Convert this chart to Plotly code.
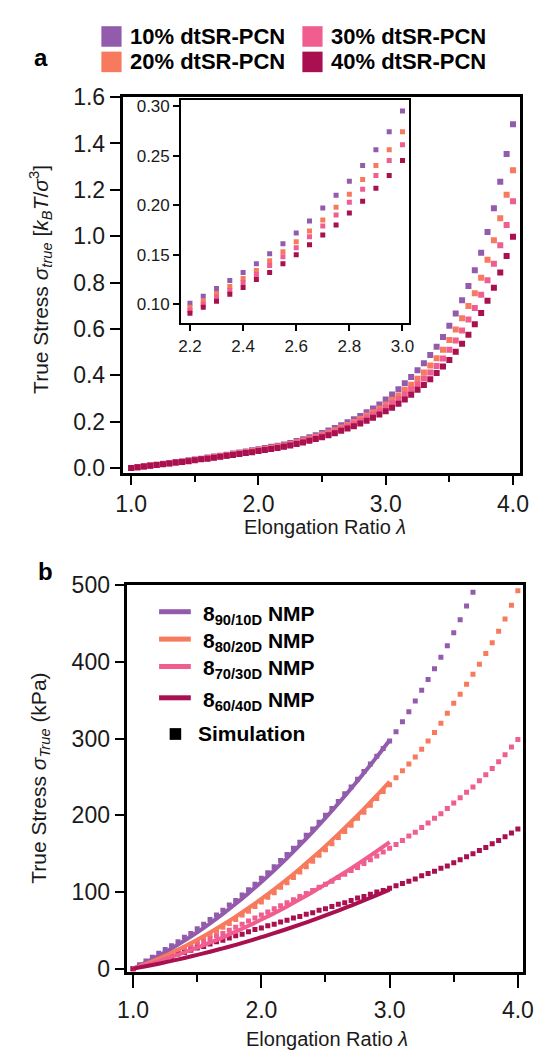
import plotly.graph_objects as go

W, H = 549, 1059

# ---------------- data: panel a (simulation, reduced units) ----------------
lam_a = [1.00, 1.05, 1.10, 1.15, 1.20, 1.25, 1.30, 1.35, 1.40, 1.45, 1.50,
         1.55, 1.60, 1.65, 1.70, 1.75, 1.80, 1.85, 1.90, 1.95, 2.00,
         2.05, 2.10, 2.15, 2.20, 2.25, 2.30, 2.35, 2.40, 2.45, 2.50,
         2.55, 2.60, 2.65, 2.70, 2.75, 2.80, 2.85, 2.90, 2.95, 3.00,
         3.05, 3.10, 3.15, 3.20, 3.25, 3.30, 3.35, 3.40, 3.45, 3.50,
         3.55, 3.60, 3.65, 3.70, 3.75, 3.80, 3.85, 3.90, 3.95, 4.00]

a10 = [0.000, 0.004, 0.007, 0.011, 0.014, 0.018, 0.021, 0.025, 0.028, 0.033, 0.036,
       0.040, 0.045, 0.049, 0.053, 0.057, 0.062, 0.067, 0.071, 0.076, 0.081,
       0.086, 0.091, 0.096, 0.101, 0.108, 0.116, 0.124, 0.132, 0.141, 0.151,
       0.161, 0.172, 0.184, 0.197, 0.210, 0.224, 0.240, 0.256, 0.274, 0.295,
       0.317, 0.339, 0.365, 0.392, 0.421, 0.452, 0.487, 0.523, 0.565, 0.614,
       0.666, 0.723, 0.785, 0.853, 0.929, 1.018, 1.121, 1.235, 1.355, 1.483]
a20 = [0.000, 0.003, 0.007, 0.010, 0.014, 0.017, 0.020, 0.024, 0.028, 0.031, 0.035,
       0.039, 0.043, 0.047, 0.051, 0.055, 0.059, 0.064, 0.068, 0.073, 0.077,
       0.082, 0.087, 0.092, 0.097, 0.103, 0.111, 0.118, 0.126, 0.134, 0.144,
       0.153, 0.163, 0.174, 0.185, 0.198, 0.211, 0.226, 0.240, 0.256, 0.274,
       0.294, 0.313, 0.336, 0.359, 0.385, 0.412, 0.442, 0.473, 0.510, 0.552,
       0.597, 0.646, 0.699, 0.754, 0.821, 0.898, 0.982, 1.077, 1.179, 1.284]
a30 = [0.000, 0.003, 0.007, 0.010, 0.013, 0.017, 0.020, 0.023, 0.027, 0.030, 0.034,
       0.038, 0.042, 0.045, 0.049, 0.053, 0.058, 0.062, 0.066, 0.070, 0.075,
       0.080, 0.084, 0.089, 0.094, 0.100, 0.107, 0.114, 0.122, 0.130, 0.139,
       0.148, 0.157, 0.168, 0.179, 0.190, 0.203, 0.216, 0.230, 0.245, 0.261,
       0.279, 0.296, 0.317, 0.338, 0.361, 0.386, 0.412, 0.440, 0.472, 0.510,
       0.550, 0.593, 0.640, 0.690, 0.747, 0.810, 0.881, 0.961, 1.048, 1.151]
a40 = [0.000, 0.003, 0.006, 0.009, 0.013, 0.016, 0.019, 0.023, 0.026, 0.029, 0.033,
       0.037, 0.040, 0.044, 0.048, 0.052, 0.056, 0.060, 0.064, 0.068, 0.073,
       0.077, 0.082, 0.086, 0.091, 0.097, 0.103, 0.110, 0.117, 0.125, 0.132,
       0.141, 0.150, 0.160, 0.170, 0.180, 0.192, 0.204, 0.217, 0.230, 0.245,
       0.260, 0.277, 0.295, 0.316, 0.337, 0.358, 0.383, 0.410, 0.438, 0.466,
       0.501, 0.536, 0.575, 0.620, 0.669, 0.721, 0.777, 0.843, 0.915, 0.997]

names_a = ["10% dtSR-PCN", "20% dtSR-PCN", "30% dtSR-PCN", "40% dtSR-PCN"]

# ---------------- data: panel b (kPa) ----------------
lam_b = lam_a
b10_sim = [0, 5, 10, 15, 20, 25, 30, 35, 41, 46, 52,
           58, 64, 70, 76, 83, 89, 96, 103, 110, 118,
           125, 133, 141, 149, 157, 165, 174, 182, 191, 200,
           209, 218, 228, 237, 247, 257, 267, 277, 287, 297,
           309, 322, 335, 349, 363, 377, 391, 406, 421, 438,
           455, 473, 491]
b20_sim = [0, 3, 6, 9, 12, 16, 19, 23, 27, 31, 35,
           40, 44, 49, 54, 59, 64, 70, 75, 81, 87,
           93, 99, 106, 112, 119, 126, 133, 140, 148, 155,
           163, 171, 179, 187, 196, 204, 213, 222, 231, 240,
           249, 258, 267, 276, 286, 297, 308, 320, 333, 346,
           358, 371, 384, 397, 411, 425, 440, 456, 474, 493]
b30_sim = [0, 3, 6, 9, 12, 15, 18, 21, 25, 28, 32,
           35, 39, 43, 46, 50, 54, 58, 62, 66, 70,
           74, 78, 82, 86, 90, 94, 98, 102, 106, 110,
           114, 119, 123, 128, 132, 137, 142, 147, 152, 157,
           162, 167, 173, 178, 184, 190, 196, 202, 209, 216,
           223, 230, 237, 245, 253, 261, 270, 279, 289, 299]
b40_sim = [0, 3, 5, 8, 11, 13, 16, 19, 21, 24, 27,
           29, 32, 35, 37, 40, 43, 45, 48, 51, 53,
           56, 58, 61, 63, 66, 68, 71, 73, 76, 78,
           81, 84, 86, 89, 92, 94, 97, 100, 102, 105,
           108, 111, 114, 117, 121, 124, 127, 131, 134, 138,
           142, 146, 150, 154, 158, 163, 167, 172, 177, 182]

lam_exp = [1.0, 1.1, 1.2, 1.3, 1.4, 1.5, 1.6, 1.7, 1.8, 1.9, 2.0,
           2.1, 2.2, 2.3, 2.4, 2.5, 2.6, 2.7, 2.8, 2.9, 3.0]
b10_exp = [0, 8.1, 16.8, 26.3, 36.6, 47.5, 59.2, 71.5, 84.6, 98.5, 113,
           128.3, 144.2, 161, 178.4, 196.5, 215.4, 235, 255.2, 276.2, 298]
b20_exp = [0, 6.3, 13.2, 20.8, 29.0, 37.8, 47.2, 57.2, 67.8, 79.1, 91,
           103.5, 116.6, 130.4, 144.8, 159.8, 175.4, 191.6, 208.4, 225.9, 244]
b30_exp = [0, 4.7, 9.8, 15.3, 21.2, 27.4, 34.0, 40.9, 48.2, 55.9, 64,
           72.4, 81.2, 90.4, 100.0, 109.9, 120.2, 130.8, 141.8, 153.2, 165]
b40_exp = [0, 3.2, 6.5, 10.1, 13.9, 17.9, 22.1, 26.5, 31.1, 35.9, 41,
           46.3, 51.7, 57.4, 63.3, 69.4, 75.7, 82.3, 89.0, 95.9, 103]

names_b_sub = ["90/10D", "80/20D", "70/30D", "60/40D"]

colors = ["#935BAC", "#F77A5E", "#EF5E8F", "#A8104F"]
FONT = "Liberation Sans, Arial, sans-serif"
INK = "#1a1a1a"


def px(p):
    return p / W


def py(p):
    return 1 - p / H


fig = go.Figure()

# panel a main
for ys, c, n in zip([a10, a20, a30, a40], colors, names_a):
    fig.add_trace(go.Scatter(x=lam_a, y=ys, mode="markers", name=n,
                             marker=dict(symbol="square", size=6, color=c, line=dict(width=0)),
                             xaxis="x", yaxis="y", showlegend=False))
# inset
for ys, c, n in zip([a10, a20, a30, a40], colors, names_a):
    fig.add_trace(go.Scatter(x=lam_a, y=ys, mode="markers", name=n,
                             marker=dict(symbol="square", size=5, color=c, line=dict(width=0)),
                             xaxis="x2", yaxis="y2", showlegend=False))
# panel b simulation
for ys, c in zip([b10_sim, b20_sim, b30_sim, b40_sim], colors):
    fig.add_trace(go.Scatter(x=lam_b[:len(ys)], y=ys, mode="markers", name="Simulation",
                             marker=dict(symbol="square", size=5, color=c, line=dict(width=0)),
                             xaxis="x3", yaxis="y3", showlegend=False))
# panel b experiments
for ys, c, s in zip([b10_exp, b20_exp, b30_exp, b40_exp], colors, names_b_sub):
    fig.add_trace(go.Scatter(x=lam_exp, y=ys, mode="lines", name="8 " + s + " NMP",
                             line=dict(color=c, width=4, shape="spline"),
                             xaxis="x3", yaxis="y3", showlegend=False))

axis_common = dict(showline=True, mirror=True, linecolor="black", linewidth=2.5,
                   ticks="outside", tickcolor="black", tickwidth=2, showgrid=False,
                   zeroline=False, tickfont=dict(size=23, color=INK, family=FONT))

fig.update_layout(
    width=W, height=H,
    margin=dict(l=0, r=0, t=0, b=0),
    paper_bgcolor="white", plot_bgcolor="white",
    font=dict(family=FONT, color=INK),
    showlegend=False,
    xaxis=dict(domain=[px(117), px(530)], range=[0.932, 4.053], anchor="y",
               tickvals=[1, 2, 3, 4], ticktext=["1.0", "2.0", "3.0", "4.0"], ticklen=9,
               minor=dict(tickvals=[1.5, 2.5, 3.5], ticklen=6, tickwidth=2, ticks="outside",
                          tickcolor="black"),
               **axis_common),
    yaxis=dict(domain=[py(470), py(86)], range=[-0.021, 1.6], anchor="x",
               tickvals=[0, 0.2, 0.4, 0.6, 0.8, 1.0, 1.2, 1.4, 1.6],
               ticktext=["0.0", "0.2", "0.4", "0.6", "0.8", "1.0", "1.2", "1.4", "1.6"],
               ticklen=10, **axis_common),
    xaxis2=dict(domain=[px(178), px(415)], range=[2.167, 3.025], anchor="y2",
                tickvals=[2.2, 2.4, 2.6, 2.8, 3.0], ticktext=["2.2", "2.4", "2.6", "2.8", "3.0"],
                ticklen=6, showline=True, mirror=True, linecolor="black", linewidth=2,
                ticks="outside", tickcolor="black", tickwidth=1.5, showgrid=False, zeroline=False,
                tickfont=dict(size=17, color=INK, family=FONT)),
    yaxis2=dict(domain=[py(317), py(89)], range=[0.081, 0.306], anchor="x2",
                tickvals=[0.10, 0.15, 0.20, 0.25, 0.30],
                ticktext=["0.10", "0.15", "0.20", "0.25", "0.30"],
                ticklen=6, showline=True, mirror=True, linecolor="black", linewidth=2,
                ticks="outside", tickcolor="black", tickwidth=1.5, showgrid=False, zeroline=False,
                tickfont=dict(size=17, color=INK, family=FONT)),
    xaxis3=dict(domain=[px(122), px(533)], range=[0.955, 4.037], anchor="y3",
                tickvals=[1, 2, 3, 4], ticktext=["1.0", "2.0", "3.0", "4.0"], ticklen=14,
                ticklabelstandoff=2,
                minor=dict(tickvals=[1.5, 2.5, 3.5], ticklen=8, tickwidth=2, ticks="outside",
                           tickcolor="black"),
                **axis_common),
    yaxis3=dict(domain=[py(980), py(585)], range=[-4, 500], anchor="x3",
                tickvals=[0, 100, 200, 300, 400, 500], ticklen=10, **axis_common),
)

ann = []
shapes = []


def text_at(x, y, text, size, color=INK, xanchor="center", yanchor="middle", angle=0):
    ann.append(dict(x=px(x), y=py(y), text=text, showarrow=False, xref="paper", yref="paper",
                    xanchor=xanchor, yanchor=yanchor, textangle=angle,
                    font=dict(size=size, color=color, family=FONT)))


# panel labels
text_at(32, 45, "<b>a</b>", 24, "black")
text_at(37, 571, "<b>b</b>", 24, "black")

# axis titles
text_at(328, 525, "Elongation Ratio <i>λ</i>", 20)
text_at(330, 1049, "Elongation Ratio <i>λ</i>", 20)
text_at(31, 272, "True Stress <i>σ<sub>true</sub></i> [<i>k<sub>B</sub>T</i>/<i>σ</i><sup>3</sup>]",
        21, angle=-90)
text_at(31, 782, "True Stress <i>σ<sub>True</sub></i> (kPa)", 21, angle=-90)

# legend a (2 x 2)
leg_a = [(95, 24, 0), (95, 50, 1), (304, 24, 2), (304, 50, 3)]
for (lx, ly, i) in leg_a:
    shapes.append(dict(type="rect", xref="paper", yref="paper",
                       x0=px(lx), x1=px(lx + 21), y0=py(ly + 10.5), y1=py(ly - 10.5),
                       fillcolor=colors[i], line=dict(width=0)))
    text_at(lx + 28, ly, "<b>" + names_a[i] + "</b>", 22, "black", xanchor="left")

# legend b
rows = [612, 640, 668, 700]
for i, ry in enumerate(rows):
    shapes.append(dict(type="line", xref="paper", yref="paper",
                       x0=px(155), x1=px(188), y0=py(ry), y1=py(ry),
                       line=dict(color=colors[i], width=5)))
    text_at(199, ry + 3, "<b>8<sub>" + names_b_sub[i] + "</sub> NMP</b>", 21, "black",
            xanchor="left")
shapes.append(dict(type="rect", xref="paper", yref="paper",
                   x0=px(166), x1=px(178), y0=py(743), y1=py(731),
                   fillcolor="black", line=dict(width=0)))
text_at(193, 737, "<b>Simulation</b>", 21, "black", xanchor="left")

fig.update_layout(annotations=ann, shapes=shapes)
fig.write_html("out.html")
